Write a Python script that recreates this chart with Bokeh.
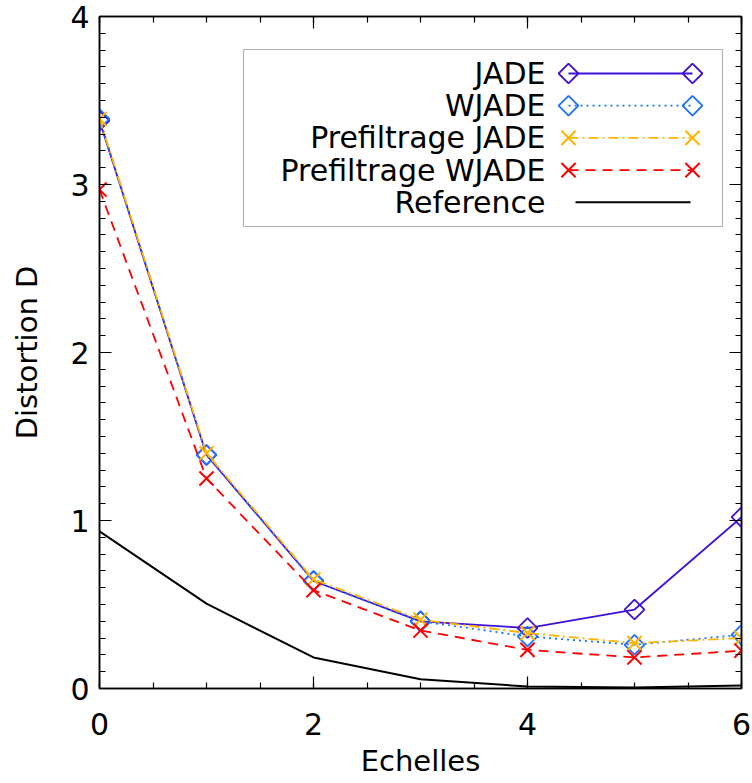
from bokeh.plotting import figure
from bokeh.models import (Range1d, FixedTicker, LinearAxis, BoxAnnotation, Label,
                          ColumnDataSource, CustomJSTickFormatter)
from bokeh.embed import file_html
from bokeh.resources import INLINE
import numpy as np

# ---- data ----
echelles = [0, 1, 2, 3, 4, 5, 6]
jade = [3.38, 1.39, 0.64, 0.40, 0.36, 0.47, 1.02]
wjade = [3.39, 1.39, 0.64, 0.40, 0.31, 0.26, 0.32]
pref_jade = [3.39, 1.40, 0.65, 0.41, 0.33, 0.27, 0.30]
pref_wjade = [2.97, 1.25, 0.585, 0.345, 0.23, 0.185, 0.225]
reference = [0.935, 0.505, 0.185, 0.055, 0.012, 0.006, 0.018]

series_names = ["JADE", "WJADE", "Prefiltrage JADE", "Prefiltrage WJADE", "Reference"]
x_major = [0, 2, 4, 6]
y_major = [0, 1, 2, 3, 4]

# ---- styles ----
FONT = "DejaVu Sans"
styles = [
    dict(color="#4010d8", dash="solid", marker="diamond"),
    dict(color="#1a72ff", dash="2 4", marker="diamond"),
    dict(color="#ffb400", dash="10 4 2 4", marker="x"),
    dict(color="#ff0000", dash="10 7", marker="x"),
    dict(color="#000000", dash="solid", marker=None),
]
values = [jade, wjade, pref_jade, pref_wjade, reference]

FW, FH = 642, 672
FL, FT = 99, 16  # frame left / top in page pixels
X0, X1, Y0, Y1 = 0, 6, 0, 4

p = figure(frame_width=FW, frame_height=FH, output_backend="svg", toolbar_location=None,
           x_range=Range1d(X0, X1), y_range=Range1d(Y0, Y1),
           min_border_left=FL, min_border_top=FT, min_border_right=10, min_border_bottom=94)
p.background_fill_color = "white"
p.border_fill_color = "white"
p.outline_line_color = "black"
p.outline_line_width = 1.5
p.xgrid.visible = False
p.ygrid.visible = False

xt = FixedTicker(ticks=x_major, minor_ticks=list(np.arange(0, 6.01, 0.5)))
yt = FixedTicker(ticks=y_major, minor_ticks=list(np.round(np.arange(0, 4.001, 0.1), 2)))

def style_axis(ax):
    ax.major_tick_in = 12
    ax.major_tick_out = 0
    ax.minor_tick_in = 6
    ax.minor_tick_out = 0
    ax.axis_line_color = "black"
    ax.axis_line_width = 1.5
    ax.major_tick_line_color = "black"
    ax.minor_tick_line_color = "black"
    ax.major_tick_line_width = 1.2
    ax.minor_tick_line_width = 1.2
    ax.major_label_text_font = FONT
    ax.major_label_text_font_size = "30px"
    ax.major_label_text_color = "black"
    ax.axis_label_text_font = FONT
    ax.axis_label_text_font_size = "29px"
    ax.axis_label_text_font_style = "normal"
    ax.axis_label_text_color = "black"

p.xaxis.ticker = xt
p.yaxis.ticker = yt
style_axis(p.xaxis[0])
style_axis(p.yaxis[0])
p.xaxis.axis_label = "Echelles"
p.yaxis.axis_label = "Distortion D"
p.xaxis.major_label_standoff = 24
p.yaxis.major_label_standoff = 10
p.xaxis.axis_label_standoff = 6
p.yaxis.axis_label_standoff = 23

top = LinearAxis(ticker=xt, formatter=CustomJSTickFormatter(code="return ''"), major_label_standoff=0)
style_axis(top)
p.add_layout(top, "above")
right = LinearAxis(ticker=yt, formatter=CustomJSTickFormatter(code="return ''"), major_label_standoff=0)
style_axis(right)
p.add_layout(right, "right")

# ---- series ----
for vals, st in zip(values, styles):
    src = ColumnDataSource(dict(x=echelles, y=vals))
    lw = 2 if st["color"] == "#000000" else 1.8
    p.line("x", "y", source=src, line_color=st["color"], line_width=lw, line_dash=st["dash"])
    if st["marker"] == "diamond":
        p.scatter("x", "y", source=src, marker="square", size=14, angle=np.pi / 4,
                  fill_color=None, line_color=st["color"], line_width=1.8)
    elif st["marker"] == "x":
        p.scatter("x", "y", source=src, marker="x", size=20,
                  line_color=st["color"], line_width=2)

# ---- legend (label left, sample right, as in the original) ----
def sx(px):
    return X0 + (px - FL) / FW * (X1 - X0)

def sy(py):
    return Y1 - (py - FT) / FH * (Y1 - Y0)

p.add_layout(BoxAnnotation(left=sx(243), right=sx(722), top=sy(49), bottom=sy(226),
                           fill_color=None, line_color="black", line_width=1.2, level="overlay"))
row0, drow = 73, 32.2
for i, (name, st) in enumerate(zip(series_names, styles)):
    yy = sy(row0 + i * drow)
    p.add_layout(Label(x=sx(545), y=yy, text=name, text_align="right", text_baseline="middle",
                       text_font=FONT, text_font_size="30px", text_color="black"))
    lx0, lx1 = (sx(568), sx(692)) if st["marker"] else (sx(575), sx(690))
    lsrc = ColumnDataSource(dict(x=[lx0, lx1], y=[yy, yy]))
    lw = 2 if st["color"] == "#000000" else 1.8
    p.line("x", "y", source=lsrc, line_color=st["color"], line_width=lw, line_dash=st["dash"])
    if st["marker"] == "diamond":
        p.scatter("x", "y", source=lsrc, marker="square", size=14, angle=np.pi / 4,
                  fill_color=None, line_color=st["color"], line_width=1.8)
    elif st["marker"] == "x":
        p.scatter("x", "y", source=lsrc, marker="x", size=20, line_color=st["color"], line_width=2)

open("out.html", "w").write(file_html(p, INLINE))
